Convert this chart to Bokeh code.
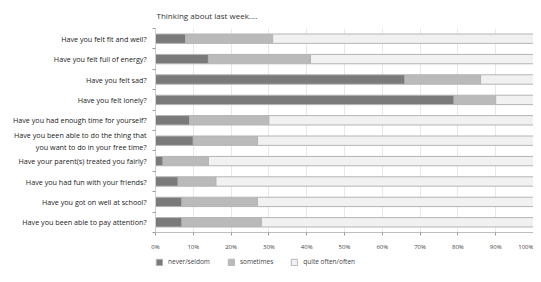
from bokeh.plotting import figure
from bokeh.layouts import column
from bokeh.models import FixedTicker, PrintfTickFormatter, Range1d, Legend
from bokeh.embed import file_html
from bokeh.resources import INLINE

questions = [
    "Have you felt fit and well?",
    "Have you felt full of energy?",
    "Have you felt sad?",
    "Have you felt lonely?",
    "Have you had enough time for yourself?",
    "Have you been able to do the thing that\nyou want to do in your free time?",
    "Have your parent(s) treated you fairly?",
    "Have you had fun with your friends?",
    "Have you got on well at school?",
    "Have you been able to pay attention?",
]
never_seldom = [8, 14, 66, 79, 9, 10, 2, 6, 7, 7]
sometimes = [23, 27, 20, 11, 21, 17, 12, 10, 20, 21]
quite_often = [69, 59, 14, 10, 70, 73, 86, 84, 73, 72]
series_names = ["never/seldom", "sometimes", "quite often/often"]
x_ticks = [0, 10, 20, 30, 40, 50, 60, 70, 80, 90, 100]
title_text = "Thinking about last week...."

colors = ["#7a7a7a", "#bababa", "#f1f1f1"]
OUTLINE = "#b4b4b4"
FONT = "Open Sans"

ypos = [i + 0.5 for i in range(len(questions))]
bounds = [float(i) for i in range(len(questions) + 1)]
data = dict(y=ypos, never=never_seldom, some=sometimes, often=quite_often)

p = figure(width=533, height=253, output_backend="svg", toolbar_location=None,
           x_range=Range1d(0, 100), y_range=Range1d(len(questions), 0),
           title=title_text, min_border_left=149, min_border_right=0,
           min_border_top=1, min_border_bottom=0)
p.outline_line_color = None
p.background_fill_color = "white"
p.border_fill_color = "white"

p.title.text_font = FONT
p.title.text_font_size = "8px"
p.title.text_font_style = "normal"
p.title.text_color = "#333333"
p.title.offset = 1
p.title.standoff = 15

rs = p.hbar_stack(["never", "some", "often"], y="y", height=0.46, color=colors,
                  line_color=OUTLINE, line_width=1, source=data)

# y axis
ya = p.yaxis[0]
ya.ticker = FixedTicker(ticks=ypos, minor_ticks=bounds)
ya.major_label_overrides = {y: q for y, q in zip(ypos, questions)}
ya.major_tick_line_color = None
ya.major_tick_out = 0
ya.major_tick_in = 0
ya.minor_tick_line_color = "#9a9a9a"
ya.minor_tick_out = 3
ya.minor_tick_in = 0
ya.axis_line_color = "#cfcfcf"
ya.major_label_text_font = FONT
ya.major_label_text_font_size = "7.2px"
ya.major_label_text_color = "#222222"
ya.major_label_standoff = 6
p.ygrid.grid_line_color = None

# x axis
xa = p.xaxis[0]
xa.ticker = FixedTicker(ticks=x_ticks)
xa.formatter = PrintfTickFormatter(format="%d%%")
xa.axis_line_color = "#bdbdbd"
xa.major_tick_line_color = "#9a9a9a"
xa.major_tick_out = 3
xa.major_tick_in = 0
xa.minor_tick_line_color = None
xa.major_label_text_font = FONT
xa.major_label_text_font_size = "6px"
xa.major_label_text_color = "#444444"
xa.major_label_standoff = 7
p.xgrid.ticker = FixedTicker(ticks=x_ticks)
p.xgrid.grid_line_color = "#e8e8e8"

# legend strip below the chart (its bars are out of view; only the legend shows)
p2 = figure(width=533, height=13, output_backend="svg", toolbar_location=None,
            x_axis_type=None, y_axis_type=None, x_range=Range1d(0, 100),
            y_range=Range1d(1000, 1001),
            min_border_left=155, min_border_right=0, min_border_top=0, min_border_bottom=0)
p2.outline_line_color = None
p2.border_fill_color = "white"
p2.background_fill_color = "white"
rs2 = p2.hbar_stack(["never", "some", "often"], y="y", height=0.46, color=colors,
                    line_color=OUTLINE, line_width=1, source=data)
lg = Legend(items=[(n, [r]) for n, r in zip(series_names, rs2)], location="bottom_left",
            orientation="horizontal", glyph_width=8, glyph_height=8,
            label_height=8, label_standoff=5, padding=0, margin=0, spacing=17,
            border_line_color=None, background_fill_alpha=0,
            label_text_font=FONT, label_text_font_size="6.5px",
            label_text_color="#444444")
p2.add_layout(lg, "center")

layout = column(p, p2, spacing=0)
open("out.html", "w").write(file_html(layout, INLINE))
